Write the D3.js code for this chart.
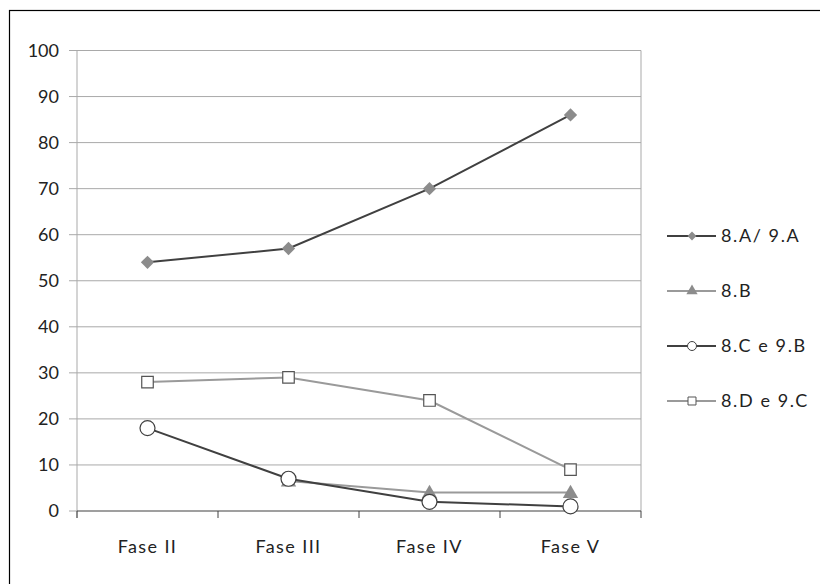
<!DOCTYPE html>
<html><head><meta charset="utf-8">
<script src="https://cdn.jsdelivr.net/npm/d3@7"></script>
<style>body{margin:0;background:#fff}svg{display:block}text{font-family:"URW Gothic","Century Gothic",Lato,"Open Sans",sans-serif;fill:#222}</style>
</head><body><svg id="c" width="820" height="584"></svg>
<script>
const categories = ["Fase II","Fase III","Fase IV","Fase V"];
const seriesNames = ["8.A/ 9.A","8.B","8.C e 9.B","8.D e 9.C"];
const sA = [54,57,70,86];
const sB = [null,6.5,4,4];
const sC = [18,7,2,1];
const sD = [28,29,24,9];
const yTicks = [0,10,20,30,40,50,60,70,80,90,100];

const svg = d3.select("#c");
svg.append("rect").attr("x",9.5).attr("y",10.5).attr("width",830).attr("height",600)
  .attr("fill","#fff").attr("stroke","#000").attr("stroke-width",1.2);

const m = {l:77,r:641,t:50.5,b:511};
const x = d3.scaleBand().domain(categories).range([m.l,m.r]);
const y = d3.scaleLinear().domain([0,100]).range([m.b,m.t]);

// gridlines
svg.append("g").selectAll("line").data(yTicks.filter(d=>d>0)).join("line")
  .attr("x1",m.l-8).attr("x2",m.r).attr("y1",d=>y(d)).attr("y2",d=>y(d))
  .attr("stroke","#a9a9a9").attr("stroke-width",1);
svg.append("line").attr("x1",m.l-8).attr("x2",m.l).attr("y1",y(0)).attr("y2",y(0)).attr("stroke","#a9a9a9");
// y axis line & right border
svg.append("line").attr("x1",m.l).attr("x2",m.l).attr("y1",m.t).attr("y2",m.b+7).attr("stroke","#a9a9a9");
svg.append("line").attr("x1",m.r).attr("x2",m.r).attr("y1",m.t).attr("y2",m.b).attr("stroke","#a9a9a9");
// y labels
svg.append("g").selectAll("text").data(yTicks).join("text")
  .attr("x",59).attr("y",d=>y(d)).attr("dy","0.35em").attr("text-anchor","end")
  .attr("font-size",18).text(d=>d);
// x axis
svg.append("line").attr("x1",m.l).attr("x2",m.r).attr("y1",m.b).attr("y2",m.b).attr("stroke","#404040").attr("stroke-width",1.2);
const bounds = categories.map(c=>x(c)).concat([m.r]);
svg.append("g").selectAll("line").data(bounds).join("line")
  .attr("x1",d=>d).attr("x2",d=>d).attr("y1",m.b).attr("y2",m.b+7).attr("stroke","#404040");
svg.append("g").selectAll("text").data(categories).join("text")
  .attr("x",d=>x(d)+x.bandwidth()/2).attr("y",553).attr("text-anchor","middle")
  .attr("font-size",18).attr("letter-spacing",1.4).text(d=>d);

const cx = i => x(categories[i]) + x.bandwidth()/2;
const styles = [
  {data:sA, line:"#404040", sym:d3.symbolDiamond2, fill:"#8c8c8c", stroke:"none", size:15},
  {data:sB, line:"#9a9a9a", sym:d3.symbolTriangle2, fill:"#8c8c8c", stroke:"none", size:15},
  {data:sC, line:"#404040", sym:d3.symbolCircle, fill:"#fff", stroke:"#404040", size:15},
  {data:sD, line:"#9a9a9a", sym:d3.symbolSquare2, fill:"#fff", stroke:"#555", size:13}
];
function symPath(st, s){
  let area;
  if(st.sym===d3.symbolCircle) area = Math.PI*(s/2)*(s/2);
  else if(st.sym===d3.symbolSquare2) area = s*s;
  else if(st.sym===d3.symbolDiamond2) area = s*s/2;
  else area = s*s*0.75;
  return d3.symbol().type(st.sym).size(area)();
}
const lineGen = d3.line().defined(d=>d.v!=null).x(d=>cx(d.i)).y(d=>y(d.v));
const order = [3,1,0,2];
order.forEach(k=>{
  const st = styles[k];
  const pts = st.data.map((v,i)=>({v,i}));
  svg.append("path").attr("d",lineGen(pts)).attr("fill","none").attr("stroke",st.line).attr("stroke-width",2);
});
order.forEach(k=>{
  const st = styles[k];
  const pts = st.data.map((v,i)=>({v,i})).filter(d=>d.v!=null);
  svg.append("g").selectAll("path").data(pts).join("path")
    .attr("d",symPath(st,st.size))
    .attr("transform",d=>`translate(${cx(d.i)},${y(d.v)})${st.sym===d3.symbolTriangle2?" translate(0,1)":""}`)
    .attr("fill",st.fill).attr("stroke",st.stroke).attr("stroke-width",1.2);
});

// legend
const ly = d3.scalePoint().domain(seriesNames).range([236,401]);
seriesNames.forEach((n,k)=>{
  const st = styles[k];
  const g = svg.append("g").attr("transform",`translate(0,${ly(n)})`);
  g.append("line").attr("x1",667).attr("x2",716).attr("y1",0).attr("y2",0).attr("stroke",st.line).attr("stroke-width",2);
  g.append("path").attr("d",symPath(st,[10,11,9,9][k])).attr("transform","translate(692,0)")
    .attr("fill",st.fill).attr("stroke",st.stroke).attr("stroke-width",1);
  g.append("text").attr("x",721).attr("y",0).attr("dy","0.35em").attr("font-size",18)
    .attr("letter-spacing",1.6).text(n);
});
</script></body></html>
